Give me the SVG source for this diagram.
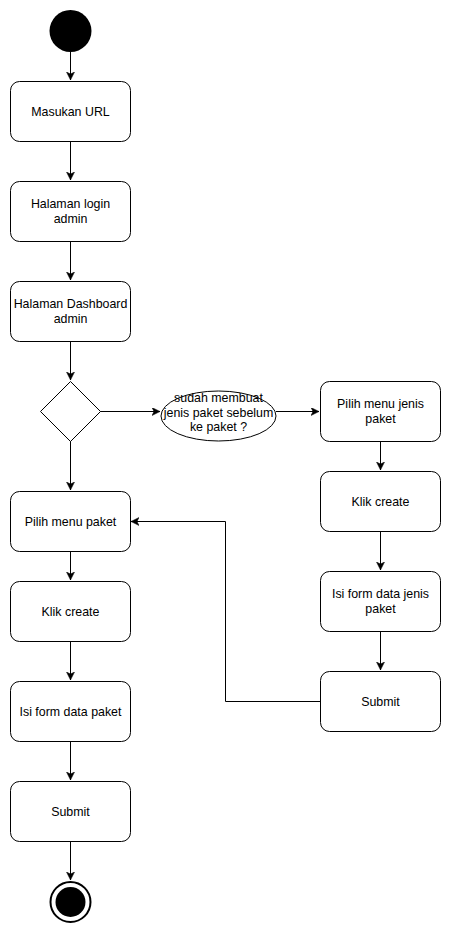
<svg xmlns="http://www.w3.org/2000/svg" width="451" height="932" viewBox="0 0 451 932">
<defs>
<style>
.box{fill:#fff;stroke:#000;stroke-width:1}
.t{font-family:"Liberation Sans",Arial,sans-serif;font-size:12.4px;fill:#000;text-anchor:middle}
.c{fill:none;stroke:#000;stroke-width:1}
</style>
<marker id="arr" markerUnits="userSpaceOnUse" markerWidth="10" markerHeight="10" refX="8" refY="4" orient="auto">
<path d="M0,0 L8,4 L0,8 L2,4 z" fill="#000" stroke="#000" stroke-width="0.5"/>
</marker>
</defs>
<rect width="451" height="932" fill="#fff"/>
<g id="connectors">
<path class="c" d="M70.5,52 V80" marker-end="url(#arr)"/>
<path class="c" d="M70.5,141 V180" marker-end="url(#arr)"/>
<path class="c" d="M70.5,241 V280" marker-end="url(#arr)"/>
<path class="c" d="M70.5,341 V380" marker-end="url(#arr)"/>
<path class="c" d="M100,411.5 H160" marker-end="url(#arr)"/>
<path class="c" d="M276,411.5 H319" marker-end="url(#arr)"/>
<path class="c" d="M70.5,441 V490" marker-end="url(#arr)"/>
<path class="c" d="M380.5,441 V470" marker-end="url(#arr)"/>
<path class="c" d="M380.5,531 V570" marker-end="url(#arr)"/>
<path class="c" d="M380.5,631 V670" marker-end="url(#arr)"/>
<path class="c" d="M320,701.5 H225.5 V521.5 H131" marker-end="url(#arr)"/>
<path class="c" d="M70.5,551 V580" marker-end="url(#arr)"/>
<path class="c" d="M70.5,641 V680" marker-end="url(#arr)"/>
<path class="c" d="M70.5,741 V780" marker-end="url(#arr)"/>
<path class="c" d="M70.5,841 V880" marker-end="url(#arr)"/>
</g>
<g id="start"><circle cx="70.5" cy="31" r="21" fill="#000"/></g>
<g id="masukan-url"><rect class="box" x="10.5" y="81.5" width="120" height="60" rx="9"/><text class="t" x="70.5" y="115.5">Masukan URL</text></g>
<g id="login"><rect class="box" x="10.5" y="181.5" width="120" height="60" rx="9"/><text class="t" x="70.5" y="208">Halaman login</text><text class="t" x="70.5" y="223">admin</text></g>
<g id="dashboard"><rect class="box" x="10.5" y="281.5" width="120" height="60" rx="9"/><text class="t" x="70.5" y="308">Halaman Dashboard</text><text class="t" x="70.5" y="323">admin</text></g>
<g id="decision"><path class="box" d="M70.5,381.5 L100.5,411.5 L70.5,441.5 L40.5,411.5 Z"/></g>
<g id="question"><ellipse class="box" cx="218.5" cy="416" rx="57.5" ry="25"/><text class="t" x="218.5" y="402">sudah membuat</text><text class="t" x="218.5" y="416.5">jenis paket sebelum</text><text class="t" x="218.5" y="431">ke paket ?</text></g>
<g id="pilih-jenis"><rect class="box" x="320.5" y="381.5" width="120" height="60" rx="9"/><text class="t" x="380.5" y="408">Pilih menu jenis</text><text class="t" x="380.5" y="423">paket</text></g>
<g id="klik-create-r"><rect class="box" x="320.5" y="471.5" width="120" height="60" rx="9"/><text class="t" x="380.5" y="505.5">Klik create</text></g>
<g id="isi-jenis"><rect class="box" x="320.5" y="571.5" width="120" height="60" rx="9"/><text class="t" x="380.5" y="598">Isi form data jenis</text><text class="t" x="380.5" y="613">paket</text></g>
<g id="submit-r"><rect class="box" x="320.5" y="671.5" width="120" height="60" rx="9"/><text class="t" x="380.5" y="705.5">Submit</text></g>
<g id="pilih-paket"><rect class="box" x="10.5" y="491.5" width="120" height="60" rx="9"/><text class="t" x="70.5" y="525.5">Pilih menu paket</text></g>
<g id="klik-create-l"><rect class="box" x="10.5" y="581.5" width="120" height="60" rx="9"/><text class="t" x="70.5" y="615.5">Klik create</text></g>
<g id="isi-paket"><rect class="box" x="10.5" y="681.5" width="120" height="60" rx="9"/><text class="t" x="70.5" y="715.5">Isi form data paket</text></g>
<g id="submit-l"><rect class="box" x="10.5" y="781.5" width="120" height="60" rx="9"/><text class="t" x="70.5" y="815.5">Submit</text></g>
<g id="end"><circle cx="70.5" cy="902" r="20" fill="#fff" stroke="#000" stroke-width="2"/><circle cx="70.5" cy="902" r="15" fill="#000"/></g>
</svg>
